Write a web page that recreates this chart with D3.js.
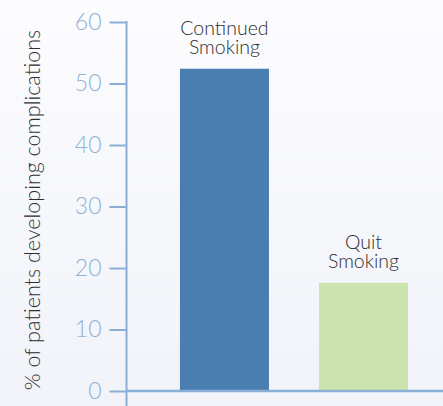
<!DOCTYPE html>
<html>
<head>
<meta charset="utf-8">
<script src="https://cdn.jsdelivr.net/npm/d3@7"></script>
<style>
  html, body { margin: 0; padding: 0; }
  body { width: 443px; height: 406px; overflow: hidden; }
  svg { display: block; }
</style>
</head>
<body>
<svg id="chart" width="443" height="406"></svg>
<script>
// Share of patients developing complications by smoking status
const categories = ["Continued Smoking", "Quit Smoking"];
const labelLines = [["Continued", "Smoking"], ["Quit", "Smoking"]];
const values = [52.4, 17.6];
const barColors = ["#4b7eb0", "#cbe4ae"];
const yTicks = [0, 10, 20, 30, 40, 50, 60];
const yTitle = "% of patients developing complications";

const W = 443, H = 406;
const svg = d3.select("#chart");

// background wash
const defs = svg.append("defs");
const grad = defs.append("linearGradient")
  .attr("id", "bg").attr("x1", 0).attr("y1", 0).attr("x2", 0).attr("y2", 1);
grad.append("stop").attr("offset", "0%").attr("stop-color", "#fcfcfe");
grad.append("stop").attr("offset", "100%").attr("stop-color", "#f1f3f9");
svg.append("rect").attr("width", W).attr("height", H).attr("fill", "url(#bg)");

const axisX = 126.5;
const y = d3.scaleLinear().domain([0, 60]).range([391, 22]);
const x = d3.scaleBand().domain(categories)
  .range([126, 462]).paddingInner(0.36).paddingOuter(0.388);

const axisColor = "#8aaed5";
const font = "Lato, 'Open Sans', sans-serif";

// bars
svg.append("g").selectAll("rect")
  .data(categories)
  .join("rect")
  .attr("x", d => x(d))
  .attr("width", x.bandwidth())
  .attr("y", (d, i) => y(values[i]))
  .attr("height", (d, i) => y(0) - y(values[i]))
  .attr("fill", (d, i) => barColors[i]);

// baseline
svg.append("line")
  .attr("x1", axisX).attr("x2", W)
  .attr("y1", y(0)).attr("y2", y(0))
  .attr("stroke", axisColor).attr("stroke-width", 2.5);

// y axis
const yAxis = d3.axisLeft(y)
  .tickValues(yTicks)
  .tickSize(17)
  .tickPadding(8)
  .tickSizeOuter(0);
const gy = svg.append("g")
  .attr("transform", `translate(${axisX},0)`)
  .call(yAxis);
gy.select(".domain").remove();
gy.selectAll(".tick line").attr("stroke", axisColor).attr("stroke-width", 2);
gy.selectAll(".tick text")
  .attr("fill", "#8fb1d8")
  .attr("font-family", font)
  .attr("font-weight", 300)
  .attr("font-size", 23);
svg.append("line")
  .attr("x1", axisX).attr("x2", axisX)
  .attr("y1", y(60) - 1).attr("y2", H)
  .attr("stroke", axisColor).attr("stroke-width", 2);

// y axis title
svg.append("text")
  .attr("transform", `translate(40,210) rotate(-90)`)
  .attr("text-anchor", "middle")
  .attr("font-family", font)
  .attr("font-weight", 300)
  .attr("font-size", 21.5)
  .attr("fill", "#2e2e2e")
  .text(yTitle);

// category labels above the bars, one text per line
categories.forEach((c, i) => {
  labelLines[i].forEach((line, k) => {
    svg.append("text")
      .attr("x", x(c) + x.bandwidth() / 2)
      .attr("y", y(values[i]) - 34 + k * 19)
      .attr("text-anchor", "middle")
      .attr("font-family", font)
      .attr("font-weight", 300)
      .attr("font-size", 19.5)
      .attr("fill", "#2e2e2e")
      .text(line);
  });
});
</script>
</body>
</html>
